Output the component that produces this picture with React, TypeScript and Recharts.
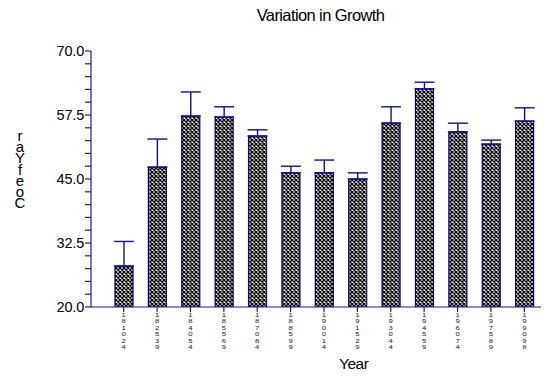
import React from "react";
import { BarChart, Bar, XAxis, YAxis, ErrorBar } from "recharts";

const periods = [
  "1810-24", "1825-39", "1840-54", "1855-69", "1870-84", "1885-99", "1900-14",
  "1915-29", "1930-44", "1945-59", "1960-74", "1975-89", "1990-98",
];
const means = [28.0, 47.3, 57.3, 57.1, 53.4, 46.2, 46.2, 45.0, 55.9, 62.6, 54.2, 51.8, 56.3];
const upperErr = [4.8, 5.5, 4.7, 2.0, 1.2, 1.3, 2.5, 1.2, 3.2, 1.3, 1.7, 0.8, 2.6];
const yTicks = [20, 22.5, 25, 27.5, 30, 32.5, 35, 37.5, 40, 42.5, 45, 47.5, 50, 52.5, 55, 57.5, 60, 62.5, 65, 67.5, 70];
const yMajor = [20, 32.5, 45, 57.5, 70];
const yLabel = "raYfeoC";

const data = periods.map((p, i) => ({ period: p, mean: means[i], err: [0, upperErr[i]] }));

const NAVY = "#1c1c8e";
const FONT = "'Liberation Sans', Arial, sans-serif";

const vertical: any = { writingMode: "vertical-rl", textOrientation: "upright" };

// start year and end year, each stacked upright
function PeriodTick({ x, payload }: any) {
  const [a, b] = String(payload.value).split("-");
  return (
    <g transform={`translate(${x},0) scale(1.25,1)`} fontFamily={FONT} fontSize={6.2} fill="#222">
      <text x={0} y={312} style={vertical}>{a}</text>
      <text x={0} y={338} style={vertical}>{b}</text>
    </g>
  );
}

export default function App() {
  return (
    <div style={{ position: "absolute", left: 0, top: 0, width: 551, height: 379, background: "#fff" }}>
      <div style={{ position: "absolute", left: 0, width: 641, top: 6, textAlign: "center", fontFamily: FONT, fontSize: 16.5, letterSpacing: -0.6, color: "#000" }}>
        Variation in Growth
      </div>
      <div style={{ position: "absolute", left: 339, top: 355, fontFamily: FONT, fontSize: 15.5, letterSpacing: -0.5, color: "#000" }}>
        Year
      </div>
      <BarChart width={551} height={379} data={data} margin={{ top: 51, right: 10, bottom: 12, left: 0 }} barSize={18}>
        <defs>
          <pattern id="xhatch" width="4" height="4" patternUnits="userSpaceOnUse">
            <rect width="4" height="4" fill="#fff" />
            <path d="M0,0 L4,4 M4,0 L0,4" stroke="#000" strokeWidth="1.3" />
          </pattern>
        </defs>
        <XAxis
          dataKey="period"
          height={60}
          padding={{ left: 16, right: 0 }}
          axisLine={{ stroke: NAVY, strokeWidth: 1.2 }}
          tickLine={{ stroke: NAVY, strokeWidth: 1.2 }}
          tickSize={5}
          interval={0}
          tick={<PeriodTick />}
        />
        <YAxis
          width={91}
          domain={[20, 70]}
          ticks={yTicks}
          interval={0}
          allowDataOverflow
          axisLine={{ stroke: NAVY, strokeWidth: 1.2 }}
          tickLine={{ stroke: NAVY, strokeWidth: 1.2 }}
          tickSize={6}
          tickMargin={1}
          tickFormatter={(v: number) => (yMajor.includes(v) ? v.toFixed(1) : "")}
          tick={{ fontFamily: FONT, fontSize: 14.5, fill: "#000", letterSpacing: -0.2 }}
          label={{
            content: () => (
              <text x={20} y={127} style={vertical} fontFamily={FONT} fontSize={15} fill="#000"
                textLength={84} lengthAdjust="spacing">{yLabel}</text>
            ),
          }}
        />
        <Bar dataKey="mean" fill="url(#xhatch)" stroke="#000080" strokeWidth={1.2} isAnimationActive={false}>
          <ErrorBar dataKey="err" direction="y" width={10} stroke="#10108a" strokeWidth={1.4} />
        </Bar>
      </BarChart>
    </div>
  );
}
